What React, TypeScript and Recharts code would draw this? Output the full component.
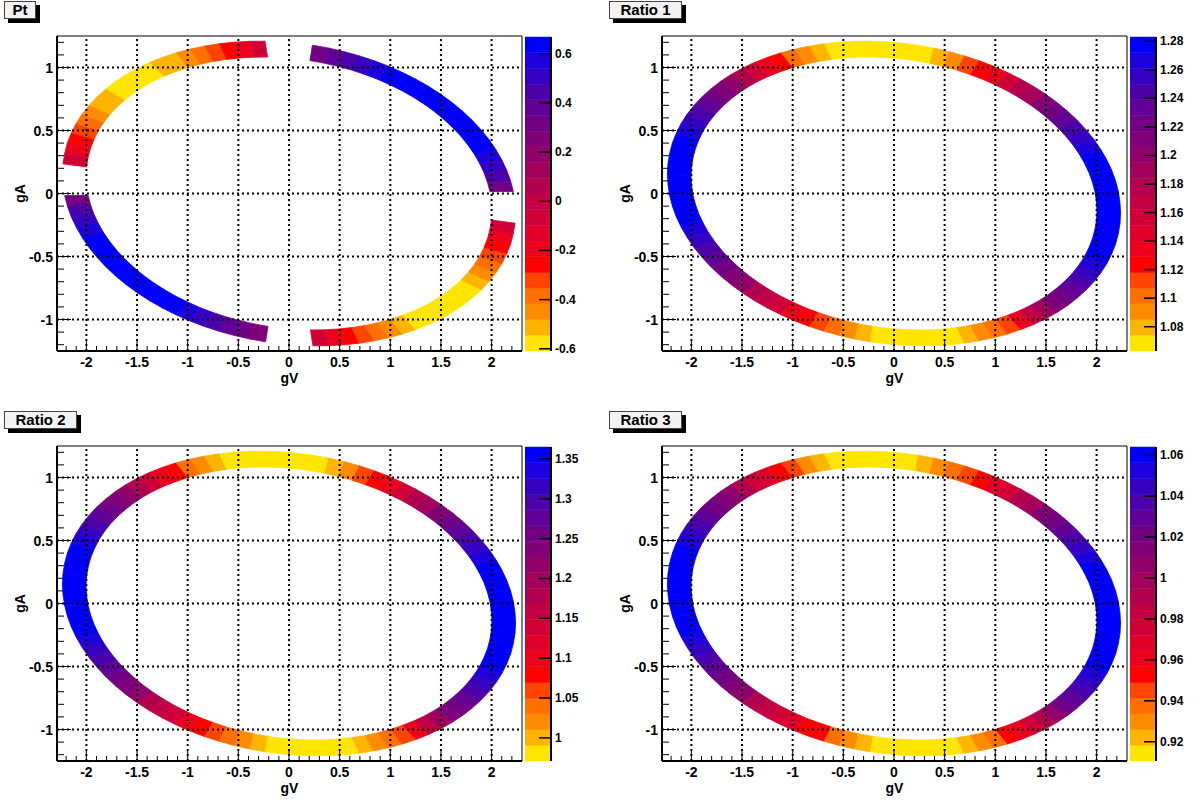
import React from "react";
import {
  ScatterChart,
  Scatter,
  XAxis,
  YAxis,
  ReferenceLine,
  ReferenceArea,
} from "recharts";

// centre line of the band (same ellipse in all four pads)
const RING_GV = [
  2.12, 2.114, 2.099, 2.073, 2.037, 1.991, 1.936, 1.871, 1.796, 1.714, 1.622, 1.523, 1.417, 1.303, 1.183,
  1.058, 0.927, 0.792, 0.653, 0.51, 0.366, 0.219, 0.072, -0.076, -0.224, -0.371, -0.515, -0.657, -0.796, -0.931,
  -1.062, -1.187, -1.307, -1.42, -1.527, -1.625, -1.716, -1.799, -1.873, -1.938, -1.993, -2.038, -2.074, -2.099, -2.115,
  -2.12, -2.114, -2.099, -2.073, -2.037, -1.991, -1.936, -1.871, -1.796, -1.714, -1.622, -1.523, -1.417, -1.303, -1.183,
  -1.058, -0.927, -0.792, -0.653, -0.51, -0.366, -0.219, -0.072, 0.076, 0.224, 0.371, 0.515, 0.657, 0.796, 0.931,
  1.062, 1.187, 1.307, 1.42, 1.527, 1.625, 1.716, 1.799, 1.873, 1.938, 1.993, 2.038, 2.074, 2.099, 2.115,
];
const RING_GA = [
  -0.145, -0.065, 0.015, 0.095, 0.175, 0.253, 0.33, 0.406, 0.48, 0.551, 0.62, 0.686, 0.748, 0.807, 0.862,
  0.912, 0.959, 1.0, 1.037, 1.068, 1.095, 1.116, 1.131, 1.141, 1.146, 1.145, 1.138, 1.126, 1.108, 1.085,
  1.057, 1.023, 0.985, 0.942, 0.894, 0.842, 0.785, 0.725, 0.661, 0.594, 0.525, 0.452, 0.378, 0.301, 0.223,
  0.145, 0.065, -0.015, -0.095, -0.175, -0.253, -0.33, -0.406, -0.48, -0.551, -0.62, -0.686, -0.748, -0.807, -0.862,
  -0.912, -0.959, -1.0, -1.037, -1.068, -1.095, -1.116, -1.131, -1.141, -1.146, -1.145, -1.138, -1.126, -1.108, -1.085,
  -1.057, -1.023, -0.985, -0.942, -0.894, -0.842, -0.785, -0.725, -0.661, -0.594, -0.525, -0.452, -0.378, -0.301, -0.223,
];
const BAND_HALF = 0.055;

// value of each segment (segment k joins ring point k and k+1), null = not drawn
const PT = [
  null, null, 0.31, 0.44, 0.5, 0.57, 0.62, 0.64, 0.65, 0.66, 0.66, 0.66, 0.66, 0.65, 0.64,
  0.62, 0.57, 0.51, 0.45, 0.38, 0.31, null, null, null, -0.07, -0.17, -0.26, -0.32, -0.39, -0.45,
  -0.51, -0.54, -0.57, -0.59, -0.6, -0.59, -0.54, -0.52, -0.45, -0.38, -0.32, -0.26, -0.18, -0.08, null,
  null, null, 0.31, 0.42, 0.5, 0.56, 0.62, 0.64, 0.65, 0.66, 0.66, 0.66, 0.66, 0.65, 0.63,
  0.59, 0.52, 0.46, 0.4, 0.33, 0.28, null, null, null, -0.07, -0.17, -0.25, -0.32, -0.38, -0.45,
  -0.51, -0.55, -0.58, -0.6, -0.6, -0.59, -0.57, -0.52, -0.45, -0.38, -0.32, -0.25, -0.17, -0.08, null,
];
const RATIO_1 = [
  1.278, 1.28, 1.28, 1.279, 1.277, 1.274, 1.267, 1.256, 1.245, 1.234, 1.223, 1.212, 1.19, 1.179, 1.157,
  1.135, 1.124, 1.113, 1.091, 1.08, 1.07, 1.067, 1.065, 1.064, 1.065, 1.066, 1.069, 1.078, 1.09, 1.102,
  1.124, 1.135, 1.157, 1.179, 1.201, 1.212, 1.223, 1.234, 1.245, 1.256, 1.267, 1.274, 1.276, 1.279, 1.28,
  1.281, 1.281, 1.28, 1.278, 1.275, 1.267, 1.256, 1.245, 1.234, 1.223, 1.212, 1.201, 1.179, 1.168, 1.157,
  1.135, 1.124, 1.113, 1.102, 1.091, 1.08, 1.07, 1.067, 1.065, 1.064, 1.065, 1.067, 1.078, 1.09, 1.102,
  1.113, 1.135, 1.168, 1.19, 1.212, 1.223, 1.234, 1.245, 1.256, 1.267, 1.274, 1.276, 1.278, 1.279, 1.279,
];
const RATIO_2 = [
  1.358, 1.36, 1.36, 1.358, 1.355, 1.35, 1.336, 1.316, 1.296, 1.276, 1.257, 1.237, 1.198, 1.178, 1.139,
  1.099, 1.08, 1.06, 1.02, 1.001, 0.985, 0.98, 0.977, 0.975, 0.976, 0.978, 0.984, 1.001, 1.02, 1.04,
  1.08, 1.099, 1.139, 1.178, 1.217, 1.237, 1.257, 1.276, 1.296, 1.316, 1.336, 1.35, 1.355, 1.358, 1.36,
  1.361, 1.361, 1.36, 1.357, 1.352, 1.336, 1.316, 1.296, 1.276, 1.257, 1.237, 1.217, 1.178, 1.158, 1.139,
  1.099, 1.08, 1.06, 1.04, 1.02, 1.001, 0.985, 0.98, 0.977, 0.975, 0.976, 0.98, 1.001, 1.02, 1.04,
  1.06, 1.099, 1.158, 1.198, 1.237, 1.257, 1.276, 1.296, 1.316, 1.336, 1.35, 1.355, 1.358, 1.36, 1.36,
];
const RATIO_3 = [
  1.061, 1.062, 1.062, 1.061, 1.06, 1.058, 1.052, 1.045, 1.037, 1.029, 1.022, 1.014, 0.999, 0.991, 0.976,
  0.968, 0.953, 0.945, 0.937, 0.93, 0.922, 0.916, 0.914, 0.913, 0.913, 0.914, 0.916, 0.922, 0.93, 0.945,
  0.953, 0.968, 0.976, 0.991, 1.006, 1.014, 1.022, 1.029, 1.037, 1.045, 1.052, 1.058, 1.06, 1.061, 1.062,
  1.063, 1.062, 1.062, 1.06, 1.058, 1.052, 1.045, 1.037, 1.029, 1.022, 1.014, 1.006, 0.991, 0.983, 0.976,
  0.968, 0.953, 0.953, 0.937, 0.93, 0.922, 0.916, 0.914, 0.913, 0.913, 0.914, 0.916, 0.922, 0.93, 0.937,
  0.953, 0.96, 0.976, 0.991, 1.006, 1.022, 1.029, 1.037, 1.045, 1.052, 1.058, 1.06, 1.061, 1.062, 1.062,
];

// palette, lowest level first
const PALETTE = [
  "#ffe600", "#ffb400", "#ff8c00", "#ff7000", "#ff4400", "#ff0000", "#ee001c", "#e0002a", "#d00037", "#c20043",
  "#b2004f", "#a2005c", "#920069", "#820077", "#720085", "#600096", "#4c00aa", "#3600c2", "#1e00de", "#0000fa",
];

const GV_MAJOR = [-2, -1.5, -1, -0.5, 0, 0.5, 1, 1.5, 2];
const GA_MAJOR = [-1, -0.5, 0, 0.5, 1];
const PT_Z_TICKS = [-0.6, -0.4, -0.2, 0, 0.2, 0.4, 0.6];
const R1_Z_TICKS = [1.08, 1.1, 1.12, 1.14, 1.16, 1.18, 1.2, 1.22, 1.24, 1.26, 1.28];
const R2_Z_TICKS = [1, 1.05, 1.1, 1.15, 1.2, 1.25, 1.3, 1.35];
const R3_Z_TICKS = [0.92, 0.94, 0.96, 0.98, 1, 1.02, 1.04, 1.06];

const GV_DOMAIN: [number, number] = [-2.29, 2.3];
const GA_DOMAIN: [number, number] = [-1.25, 1.25];

const FONT = '"Liberation Sans", Arial, Helvetica, sans-serif';

// minor ticks every 0.1
const tenths = (from: number, to: number) => {
  const out: number[] = [];
  for (let i = Math.round(from * 10); i <= Math.round(to * 10); i++) out.push(i / 10);
  return out;
};
const GV_TICKS = tenths(-2.2, 2.2);
const GA_TICKS = tenths(-1.2, 1.2);

const isMajor = (v: number) => Math.abs(v * 2 - Math.round(v * 2)) < 1e-6;

const zColor = (v: number, zMin: number, zMax: number) => {
  let i = Math.floor(((v - zMin) / (zMax - zMin)) * PALETTE.length);
  if (i < 0) i = 0;
  if (i > PALETTE.length - 1) i = PALETTE.length - 1;
  return PALETTE[i];
};

const labelStyle = { fontFamily: FONT, fontWeight: "bold" as const, fill: "#000" };

function XTick(props: any) {
  const { x, y, payload } = props;
  const v = payload.value;
  const major = isMajor(v);
  return (
    <g>
      <line x1={x} y1={y} x2={x} y2={y - (major ? 10 : 5)} stroke="#000" strokeWidth={1} />
      {major && (
        <text x={x} y={y + 16} textAnchor="middle" fontSize={14} {...labelStyle}>
          {String(v)}
        </text>
      )}
    </g>
  );
}

function YTick(props: any) {
  const { x, y, payload } = props;
  const v = payload.value;
  const major = isMajor(v);
  return (
    <g>
      <line x1={x} y1={y} x2={x + (major ? 14 : 7)} y2={y} stroke="#000" strokeWidth={1} />
      {major && (
        <text x={x - 4} y={y + 5} textAnchor="end" fontSize={14} {...labelStyle}>
          {String(v)}
        </text>
      )}
    </g>
  );
}

function ZTick(props: any) {
  const { x, y, payload } = props;
  return (
    <g>
      <line x1={x} y1={y} x2={x - 12} y2={y} stroke="#000" strokeWidth={1.5} />
      <text x={x + 4} y={y + 4} textAnchor="start" fontSize={12} {...labelStyle}>
        {String(payload.value)}
      </text>
    </g>
  );
}

interface PanelProps {
  left: number;
  top: number;
  title: string;
  titleWidth: number;
  values: (number | null)[];
  zMin: number;
  zMax: number;
  zTicks: number[];
}

function Panel({ left, top, title, titleWidth, values, zMin, zMax, zTicks }: PanelProps) {
  const ring = [
    ...RING_GV.map((g, i) => ({ gV: g * (1 + BAND_HALF), gA: RING_GA[i] * (1 + BAND_HALF) })),
    ...RING_GV.map((g, i) => ({ gV: g * (1 - BAND_HALF), gA: RING_GA[i] * (1 - BAND_HALF) })),
  ];

  const renderBand = (props: any) => {
    const pts = props.points || [];
    const n = pts.length / 2;
    if (!n) return <g />;
    return (
      <g>
        {values.map((v, k) => {
          if (v == null) return null;
          const k2 = (k + 1) % n;
          const quad = [pts[k], pts[k2], pts[n + k2], pts[n + k]];
          const c = zColor(v, zMin, zMax);
          return (
            <polygon
              key={k}
              points={quad.map((p: any) => `${p.x},${p.y}`).join(" ")}
              fill={c}
              stroke={c}
              strokeWidth={0.8}
            />
          );
        })}
      </g>
    );
  };

  const step = (zMax - zMin) / PALETTE.length;

  return (
    <div style={{ position: "absolute", left, top, width: 600, height: 400 }}>
      <div
        style={{
          position: "absolute",
          left: 4,
          top: 1,
          width: titleWidth,
          height: 18,
          boxSizing: "border-box",
          border: "1px solid #444",
          background: "#f2f2f2",
          boxShadow: "4px 4px 0 #000",
          fontFamily: FONT,
          fontWeight: "bold",
          fontSize: 15,
          lineHeight: "16px",
          textAlign: "center",
          color: "#000",
        }}
      >
        {title}
      </div>

      <div style={{ position: "absolute", left: 0, top: 0 }}>
        <ScatterChart width={530} height={400} margin={{ top: 36, right: 8, bottom: 0, left: 0 }}>
          <XAxis
            type="number"
            dataKey="gV"
            domain={GV_DOMAIN}
            allowDataOverflow
            ticks={GV_TICKS}
            interval={0}
            height={49}
            tickSize={0}
            tickMargin={0}
            tickLine={false}
            tick={<XTick />}
            axisLine={{ stroke: "#000", strokeWidth: 2 }}
            label={{ value: "gV", position: "insideBottom", offset: 17, fontSize: 14, ...labelStyle }}
          />
          <YAxis
            type="number"
            dataKey="gA"
            domain={GA_DOMAIN}
            allowDataOverflow
            ticks={GA_TICKS}
            interval={0}
            width={57}
            tickSize={0}
            tickMargin={0}
            tickLine={false}
            tick={<YTick />}
            axisLine={{ stroke: "#000", strokeWidth: 2 }}
            label={{
              value: "gA",
              angle: -90,
              position: "insideLeft",
              offset: 20,
              fontSize: 14,
              style: { textAnchor: "middle" },
              ...labelStyle,
            }}
          />
          <Scatter
            data={ring}
            line={renderBand}
            lineType="joint"
            shape={() => <g />}
            isAnimationActive={false}
          />
          {GV_MAJOR.map((v) => (
            <ReferenceLine key={"gx" + v} x={v} stroke="#000" strokeWidth={2} strokeDasharray="2 3" zIndex={1000} />
          ))}
          {GA_MAJOR.map((v) => (
            <ReferenceLine key={"gy" + v} y={v} stroke="#000" strokeWidth={2} strokeDasharray="2 3" zIndex={1000} />
          ))}
          <ReferenceLine y={GA_DOMAIN[1]} stroke="#000" strokeWidth={1} />
          <ReferenceLine x={GV_DOMAIN[1]} stroke="#000" strokeWidth={1} />
        </ScatterChart>
      </div>

      <div style={{ position: "absolute", left: 525, top: 0 }}>
        <ScatterChart width={68} height={400} margin={{ top: 37, right: 0, bottom: 49, left: 0 }}>
          <XAxis type="number" dataKey="u" domain={[0, 1]} hide />
          <YAxis
            type="number"
            dataKey="z"
            domain={[zMin, zMax]}
            allowDataOverflow
            orientation="right"
            width={42}
            ticks={zTicks}
            interval={0}
            tickSize={0}
            tickMargin={0}
            tickLine={false}
            tick={<ZTick />}
            axisLine={{ stroke: "#000", strokeWidth: 2 }}
          />
          {PALETTE.map((c, i) => (
            <ReferenceArea
              key={c}
              x1={0}
              x2={1}
              y1={zMin + i * step}
              y2={i === PALETTE.length - 1 ? zMax : zMin + (i + 1) * step}
              fill={c}
              fillOpacity={1}
              stroke={c}
              strokeWidth={0.5}
              ifOverflow="visible"
            />
          ))}
          <Scatter
            data={[
              { u: 0.5, z: zMin },
              { u: 0.5, z: zMax },
            ]}
            shape={() => <g />}
            isAnimationActive={false}
          />
        </ScatterChart>
      </div>
    </div>
  );
}

export default function App() {
  return (
    <div
      style={{
        position: "absolute",
        left: 0,
        top: 0,
        width: 1195,
        height: 804,
        overflow: "hidden",
        background: "#fff",
      }}
    >
      <Panel left={0} top={0} title="Pt" titleWidth={32} values={PT} zMin={-0.609} zMax={0.668} zTicks={PT_Z_TICKS} />
      <Panel left={605} top={0} title="Ratio 1" titleWidth={73} values={RATIO_1} zMin={1.063} zMax={1.283} zTicks={R1_Z_TICKS} />
      <Panel left={0} top={410} title="Ratio 2" titleWidth={73} values={RATIO_2} zMin={0.971} zMax={1.365} zTicks={R2_Z_TICKS} />
      <Panel left={605} top={410} title="Ratio 3" titleWidth={73} values={RATIO_3} zMin={0.9106} zMax={1.064} zTicks={R3_Z_TICKS} />
    </div>
  );
}
